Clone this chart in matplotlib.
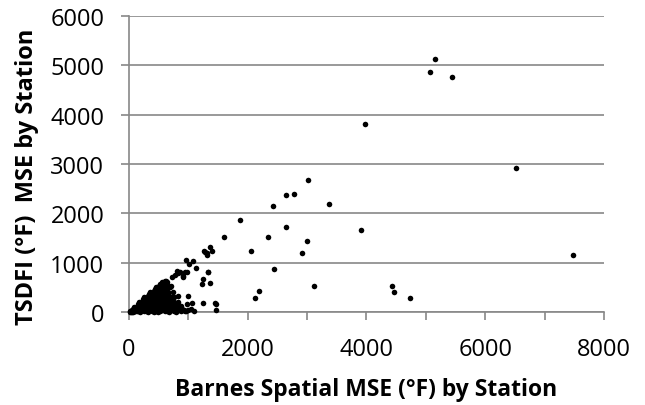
import matplotlib
matplotlib.use("Agg")
import matplotlib.pyplot as plt
from matplotlib.ticker import MultipleLocator, FuncFormatter

# Barnes spatial MSE vs TSDFI MSE, one point per station
# outliers / scattered points
spread_x = [5160, 5070, 5435, 3968, 6520, 7470, 3019, 2642, 2782, 2417, 3361, 1867,
            1602, 2349, 2642, 2052, 3002, 2917, 3900, 2434, 2192, 2125, 3108, 4435,
            4469, 4727, 1366, 1270, 1394, 1321, 966, 1074, 1015, 1124, 1327, 803,
            830, 978, 915, 730, 1241, 624, 1225, 1366, 701, 999, 819, 747, 1253,
            1467, 1462, 971, 1057, 1282, 1310, 944, 860, 776, 904, 1337, 635, 691,
            663, 1450]
spread_y = [5122, 4872, 4762, 3807, 2913, 1165, 2683, 2371, 2392, 2141, 2181, 1870,
            1518, 1518, 1728, 1246, 1437, 1205, 1667, 874, 433, 291, 522, 535,
            413, 291, 1327, 1234, 1246, 1159, 1050, 1030, 970, 894, 819, 840,
            786, 806, 717, 717, 664, 636, 563, 583, 535, 331, 331, 400, 189,
            169, 41, 163, 183, 1225, 1199, 806, 806, 752, 725, 806, 616, 514,
            400, 177]

# dense cluster near the origin
blob_x = [15, 40, 70, 95, 130, 160, 190, 220, 250, 285, 320, 350, 385, 420, 455,
          490, 520, 560, 600, 640, 680, 720, 760, 800, 840, 880, 920, 960, 1000,
          60, 90, 120, 150, 180, 210, 240, 270, 300, 330, 360, 390, 420, 450, 480,
          510, 540, 570, 600, 630, 660, 700, 740, 780, 820, 860,
          150, 175, 200, 230, 260, 290, 320, 350, 380, 410, 440, 470, 500, 530,
          560, 590, 620, 650, 690, 730,
          230, 260, 290, 320, 350, 380, 410, 440, 470, 500, 530, 560, 590, 620,
          650, 680,
          330, 360, 390, 420, 450, 480, 510, 540, 570, 600, 630, 660,
          430, 460, 490, 510, 540, 570, 600, 630, 660,
          520, 550, 580, 610, 640,
          25, 50, 80, 110, 140, 170, 200, 35, 65, 100, 125, 260, 310, 360, 410,
          450, 500, 545, 585, 625, 675, 745, 815, 880, 945, 1050, 1100, 760,
          30, 55, 75, 90, 105, 115, 135, 145, 165, 185, 195, 205, 215, 235, 245,
          255, 265, 275, 295, 305, 315, 325, 340, 345, 355, 365, 375, 395, 400,
          405, 425, 435, 445, 465, 475, 485, 495, 505, 525, 535, 545, 555, 565,
          575, 595, 605, 615, 645, 665, 685, 705, 725, 755, 790, 830, 870, 900]
blob_y = [5, 20, 8, 30, 12, 25, 5, 35, 15, 28, 6, 40, 18, 10, 30,
          5, 22, 40, 12, 30, 8, 45, 20, 10, 35, 15, 50, 25, 40,
          60, 95, 80, 130, 100, 70, 140, 110, 80, 150, 120, 90, 140, 75, 120,
          95, 130, 85, 110, 140, 90, 120, 100, 80, 130, 70,
          160, 200, 180, 230, 170, 240, 200, 160, 250, 210, 180, 240, 200, 170,
          230, 190, 220, 160, 200, 240,
          260, 300, 280, 330, 270, 340, 300, 270, 330, 290, 350, 310, 270, 330,
          290, 320,
          360, 400, 380, 430, 370, 440, 400, 360, 430, 380, 420, 370,
          460, 500, 480, 530, 470, 510, 480, 540, 500,
          560, 600, 580, 630, 560,
          25, 45, 55, 70, 100, 120, 150, 10, 35, 50, 90, 200, 250, 300, 350,
          380, 420, 450, 500, 530, 60, 150, 40, 90, 20, 60, 15, 300,
          25, 10, 40, 60, 20, 85, 45, 110, 70, 130, 40, 150, 95, 180, 60,
          120, 210, 150, 50, 230, 170, 110, 260, 60, 200, 140, 290, 230, 100,
          320, 260, 190, 120, 300, 220, 50, 330, 160, 260, 380, 300, 200, 420,
          350, 250, 450, 160, 400, 250, 180, 90, 300, 210, 160, 200, 120, 60]

xs = spread_x + blob_x
ys = spread_y + blob_y

plt.rcParams['font.family'] = ['Open Sans', 'DejaVu Sans']
grey = '#888888'

fig = plt.figure(figsize=(6.45, 4.06), dpi=100)
ax = fig.add_axes([0.2, 0.229, 0.7364, 0.729])

ax.scatter(xs, ys, s=16, color='black', linewidths=0, zorder=3, clip_on=False)

ax.set_xlim(0, 8000)
ax.set_ylim(0, 6000)
ax.xaxis.set_major_locator(MultipleLocator(1000))
ax.xaxis.set_major_formatter(FuncFormatter(lambda v, p: '%d' % v if int(v) % 2000 == 0 else ''))
ax.yaxis.set_major_locator(MultipleLocator(1000))

ax.grid(axis='y', color=grey, linewidth=1.2, zorder=0)
ax.set_axisbelow(True)
for s in ['top', 'right']:
    ax.spines[s].set_visible(False)
for s in ['left', 'bottom']:
    ax.spines[s].set_color(grey)
    ax.spines[s].set_linewidth(1.2)
ax.tick_params(axis='both', direction='out', length=5.8, width=1.2, color=grey,
               labelsize=17, labelcolor='black', pad=12)

ax.set_xlabel('Barnes Spatial MSE (°F) by Station', fontsize=16.5, fontweight='bold', labelpad=12)
ax.set_ylabel('TSDFI (°F)  MSE by Station', fontsize=17, fontweight='bold', labelpad=8)
ax.yaxis.label.set_y(0.46)

fig.savefig('out.png', dpi=100)
